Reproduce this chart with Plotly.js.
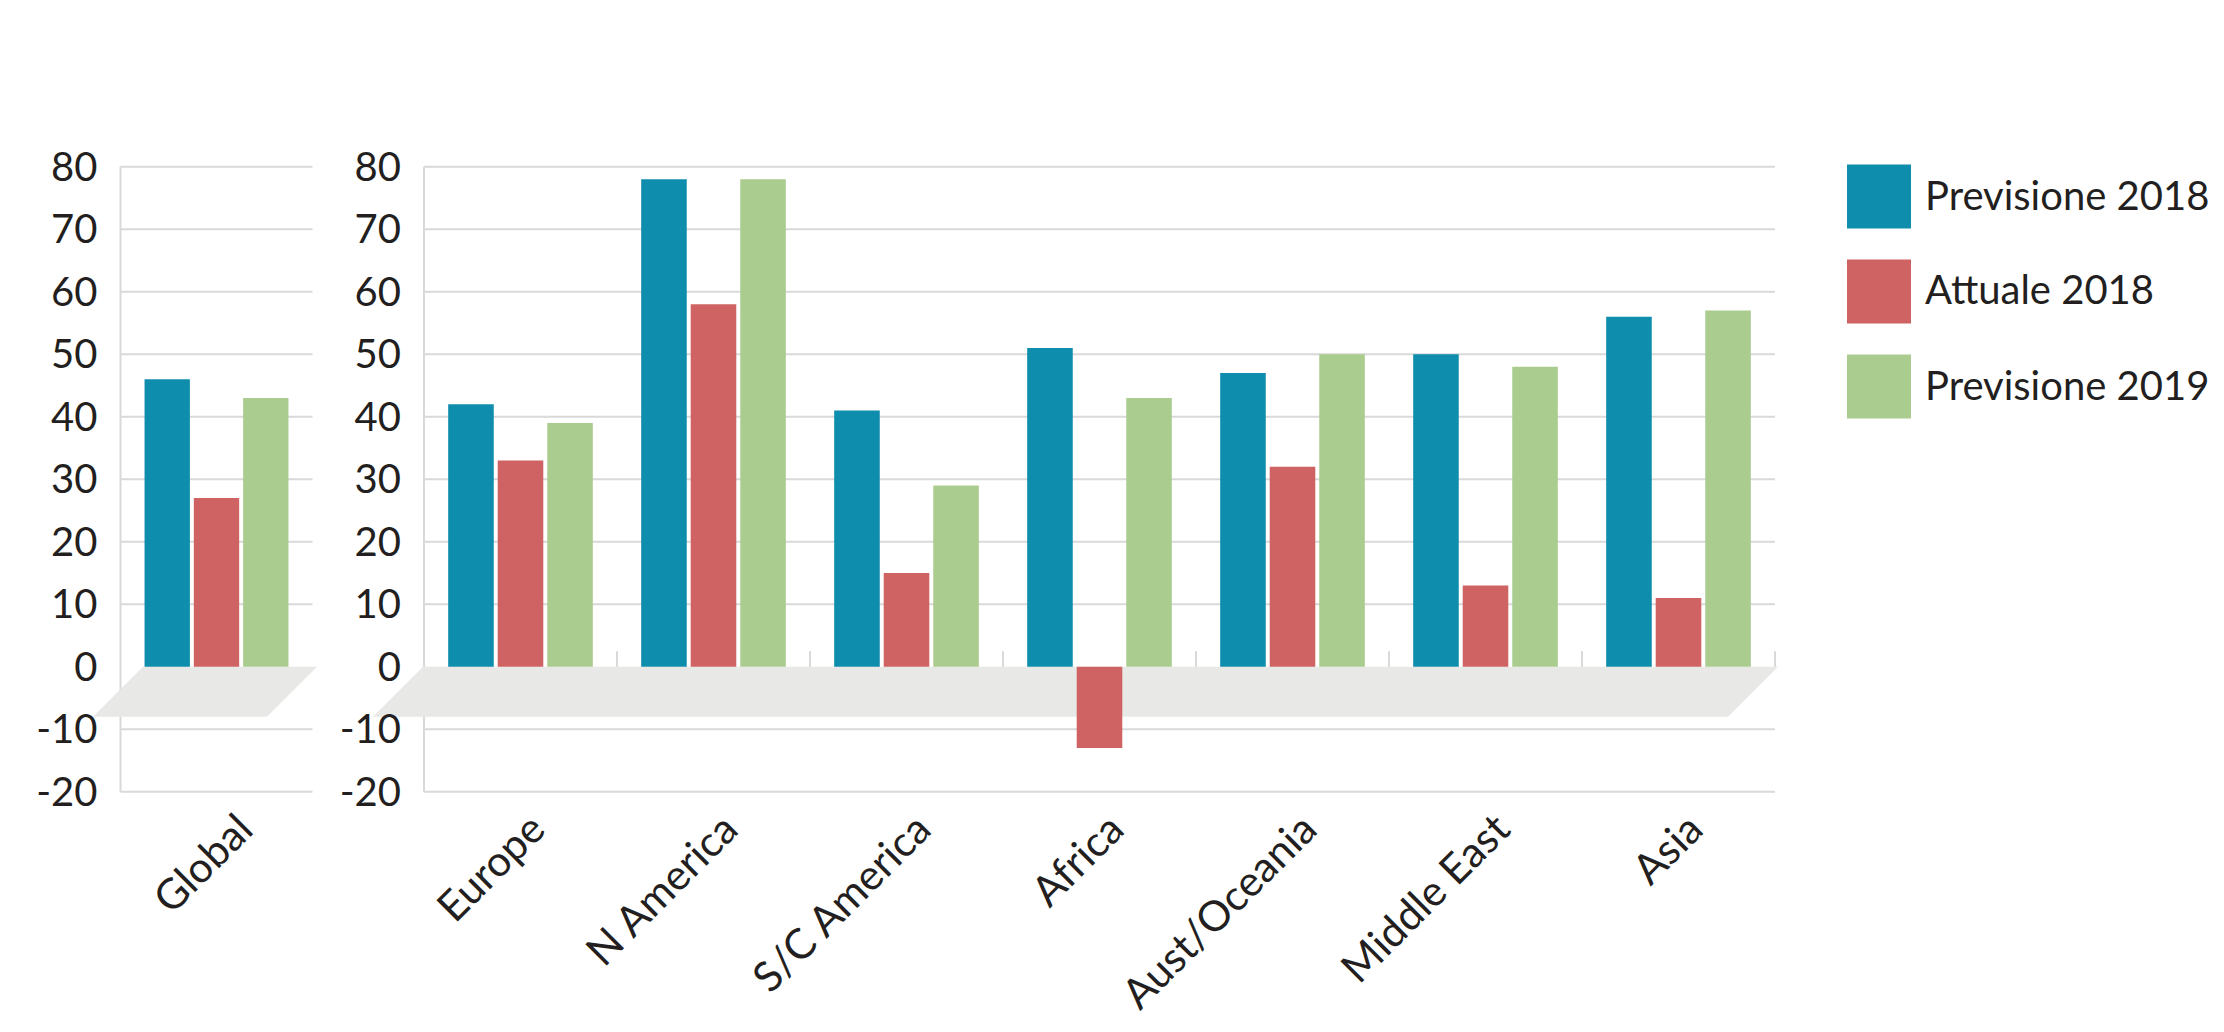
<!DOCTYPE html>
<html><head><meta charset="utf-8">
<script src="https://cdn.plot.ly/plotly-3.0.1.min.js"></script>
<style>html,body{margin:0;padding:0;background:#fff;overflow:hidden}</style>
</head><body><div id="chart" style="width:2224px;height:1032px"></div>
<script>
// ---- data ----
const globalCategory = ['Global'];
const regionCategories = ['Europe', 'N America', 'S/C America', 'Africa', 'Aust/Oceania', 'Middle East', 'Asia'];
const seriesNames = ['Previsione 2018', 'Attuale 2018', 'Previsione 2019'];
const seriesColors = ['#0e8dac', '#cf6363', '#abcc8f'];
const globalPrev2018 = [46];
const globalAtt2018 = [27];
const globalPrev2019 = [43];
const regionPrev2018 = [42, 78, 41, 51, 47, 50, 56];
const regionAtt2018 = [33, 58, 15, -13, 32, 13, 11];
const regionPrev2019 = [39, 78, 29, 43, 50, 48, 57];
const yTickValues = [-20, -10, 0, 10, 20, 30, 40, 50, 60, 70, 80];

// ---- layout geometry ----
const W = 2224, H = 1032;
const dom1 = [120.5 / W, 312.5 / W];
const dom2 = [424 / W, 1775 / W];
const yDom = [0.22669, 0.84443];
const yRange = [-21, 81];
const font = {family: 'Lato, "Noto Sans", sans-serif', size: 40, color: '#231f20'};
const xFont = {family: 'Lato, "Noto Sans", sans-serif', size: 42, color: '#231f20'};
const gridColor = '#d9d9d9';
const floorColor = '#e8e8e6';

const globalVals = [globalPrev2018, globalAtt2018, globalPrev2019];
const regionVals = [regionPrev2018, regionAtt2018, regionPrev2019];

const traces = [];
seriesNames.forEach((name, i) => {
  traces.push({type: 'bar', name: name, x: globalCategory, y: globalVals[i], xaxis: 'x', yaxis: 'y',
    marker: {color: seriesColors[i]}, showlegend: false, hoverinfo: 'skip'});
  traces.push({type: 'bar', name: name, x: regionCategories, y: regionVals[i], xaxis: 'x2', yaxis: 'y2',
    marker: {color: seriesColors[i]}, showlegend: false, hoverinfo: 'skip'});
});

const shapes = [];
function panelShapes(dom, yref, floorTL, floorTR) {
  yTickValues.forEach(v => {
    if (v === 0) return;
    shapes.push({type: 'line', layer: 'below', xref: 'paper', yref: yref, x0: dom[0], x1: dom[1], y0: v, y1: v,
      line: {color: gridColor, width: 2}});
  });
  shapes.push({type: 'line', layer: 'below', xref: 'paper', yref: yref, x0: dom[0], x1: dom[0],
    y0: yTickValues[0], y1: yTickValues[yTickValues.length - 1], line: {color: gridColor, width: 2}});
  const tl = dom[0] + floorTL / W, tr = dom[1] + floorTR / W, off = 50 / W;
  shapes.push({type: 'path', layer: 'below', xref: 'paper', yref: yref,
    path: `M ${tl},0 L ${tr},0 L ${tr - off},-8 L ${tl - off},-8 Z`,
    fillcolor: floorColor, line: {width: 0}});
}
panelShapes(dom1, 'y', 22.5, 4.5);
panelShapes(dom2, 'y2', -1, 3);
// category separator ticks on the regional panel
for (let k = 0; k <= regionCategories.length; k++) {
  const xp = dom2[0] + (dom2[1] - dom2[0]) * k / regionCategories.length;
  shapes.push({type: 'line', layer: 'below', xref: 'paper', yref: 'y2', x0: xp, x1: xp, y0: 0, y1: 2.5,
    line: {color: gridColor, width: 2}});
}

// legend (drawn manually)
const annotations = [];
const legX0 = 1847 / W, legX1 = 1911 / W;
seriesNames.forEach((name, i) => {
  const top = 164.5 + i * 95, bot = top + 64;
  shapes.push({type: 'rect', layer: 'above', xref: 'paper', yref: 'paper', x0: legX0, x1: legX1,
    y0: 1 - bot / H, y1: 1 - top / H, fillcolor: seriesColors[i], line: {width: 0}});
  annotations.push({xref: 'paper', yref: 'paper', x: 1923 / W, y: 1 - (top + 30) / H, xanchor: 'left', yanchor: 'middle',
    text: name, showarrow: false, font: font});
});

const yAxisCommon = {domain: yDom, range: yRange, tickvals: yTickValues, ticktext: yTickValues.map(String),
  showgrid: false, zeroline: false, showline: false, ticks: '', tickfont: font, ticklabelstandoff: 22, fixedrange: true};
const xAxisCommon = {type: 'category', showgrid: false, zeroline: false, showline: false, ticks: '',
  tickangle: -45, tickfont: xFont, ticklabelshift: 12, ticklabelstandoff: -3, fixedrange: true};

const layout = {
  width: W, height: H,
  margin: {l: 0, r: 0, t: 0, b: 0},
  paper_bgcolor: '#ffffff', plot_bgcolor: 'rgba(0,0,0,0)',
  barmode: 'group', bargap: 0.23, bargroupgap: 0.08,
  showlegend: false,
  xaxis: Object.assign({}, xAxisCommon, {domain: dom1, anchor: 'y', range: [-0.5, 0.5], ticklabelshift: 24}),
  xaxis2: Object.assign({}, xAxisCommon, {domain: dom2, anchor: 'y2', range: [-0.5, regionCategories.length - 0.5]}),
  yaxis: Object.assign({}, yAxisCommon, {anchor: 'x'}),
  yaxis2: Object.assign({}, yAxisCommon, {anchor: 'x2'}),
  shapes: shapes,
  annotations: annotations,
  font: font
};

Plotly.newPlot('chart', traces, layout, {staticPlot: true, displayModeBar: false});
</script>
</body></html>
